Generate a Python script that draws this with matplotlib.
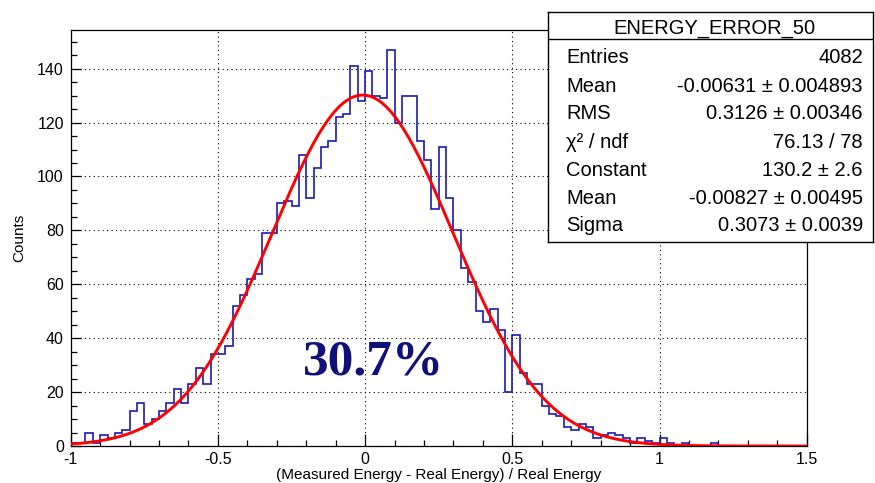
import numpy as np
import matplotlib
matplotlib.use("Agg")
import matplotlib.pyplot as plt
from matplotlib.ticker import MultipleLocator

plt.rcParams['font.family'] = ['Liberation Sans', 'DejaVu Sans']

# histogram: 100 bins from -1 to 1.5
X_MIN = -1.0
X_MAX = 1.5
N_BINS = 100
counts = [
    1, 1, 5, 1, 4, 3, 5, 6, 13, 16,
    8, 10, 13, 16, 21, 16, 23, 29, 23, 34,
    34, 37, 52, 56, 62, 64, 79, 79, 90, 91,
    89, 108, 92, 103, 111, 113, 122, 123, 141, 128,
    139, 130, 129, 147, 120, 130, 130, 113, 106, 88,
    111, 92, 80, 66, 61, 50, 46, 51, 43, 20,
    41, 27, 23, 23, 15, 12, 11, 7, 6, 8,
    7, 3, 4, 5, 4, 3, 1, 3, 2, 1,
    3, 1, 0, 1, 0, 0, 0, 1, 0, 0,
    0, 0, 0, 0, 0, 0, 0, 0, 0, 0,
]

# gaussian fit parameters (from the stats box)
FIT_CONST = 130.2
FIT_MEAN = -0.00827
FIT_SIGMA = 0.3073

stats_title = "ENERGY_ERROR_50"
stats_names = ["Entries", "Mean", "RMS", "χ² / ndf", "Constant", "Mean", "Sigma"]
stats_values = ["4082", "-0.00631 ± 0.004893", "0.3126 ± 0.00346", "76.13 / 78",
                "130.2 ± 2.6", "-0.00827 ± 0.00495", "0.3073 ± 0.0039"]

resolution_label = "30.7%"

fig = plt.figure(figsize=(8.75, 4.83), dpi=100)
ax = fig.add_axes([0.0808, 0.0766, 0.8412, 0.8613])

edges = np.linspace(X_MIN, X_MAX, N_BINS + 1)
ax.stairs(counts, edges, color='#1a1ab4', linewidth=1.2, baseline=0, zorder=3)

xf = np.linspace(X_MIN, X_MAX, 600)
yf = FIT_CONST * np.exp(-0.5 * ((xf - FIT_MEAN) / FIT_SIGMA) ** 2)
ax.plot(xf, yf, color='#ff0000', linewidth=2.1, zorder=4)

ax.set_xlim(X_MIN, X_MAX)
ax.set_ylim(0, max(counts) * 1.05)

ax.xaxis.set_major_locator(MultipleLocator(0.5))
ax.xaxis.set_minor_locator(MultipleLocator(0.1))
ax.yaxis.set_major_locator(MultipleLocator(20))
ax.yaxis.set_minor_locator(MultipleLocator(5))
ax.xaxis.set_major_formatter(plt.FuncFormatter(lambda v, p: f"{v:g}"))

ax.tick_params(axis='x', which='major', direction='in', length=9, width=0.9, labelsize=11.5, pad=4)
ax.tick_params(axis='x', which='minor', direction='in', length=4.5, width=0.9)
ax.tick_params(axis='y', which='major', direction='in', length=7, width=0.9, labelsize=11.5, pad=5)
ax.tick_params(axis='y', which='minor', direction='in', length=4, width=0.9)

ax.grid(True, which='major', color='black', linestyle=(0, (1, 3)), linewidth=0.8)
for s in ax.spines.values():
    s.set_linewidth(0.9)

ax.set_xlabel("(Measured Energy - Real Energy) / Real Energy", fontsize=11, labelpad=1)
ax.set_ylabel("Counts", fontsize=11, labelpad=8)

ax.text(0.03, 31, resolution_label, fontsize=37, fontweight='bold', color='#10107a',
        family='Liberation Serif', ha='center', va='center', zorder=5)

# stats box
box = fig.add_axes([0.6263, 0.4996, 0.3717, 0.4762])
box.set_xticks([])
box.set_yticks([])
box.set_xlim(0, 1)
box.set_ylim(0, 1)
box.set_facecolor('white')
for s in box.spines.values():
    s.set_linewidth(1.0)
box.axhline(0.880, color='black', linewidth=1.0)
box.text(0.513, 0.9061, stats_title, fontsize=14.5, ha='center', va='baseline')
row_y = [0.7783, 0.6496, 0.5322, 0.4087, 0.2857, 0.1639, 0.0465]
for name, val, y in zip(stats_names, stats_values, row_y):
    box.text(0.0566, y, name, fontsize=14.5, ha='left', va='baseline')
    box.text(0.968, y, val, fontsize=14.5, ha='right', va='baseline')

fig.savefig("out.png", dpi=100)
